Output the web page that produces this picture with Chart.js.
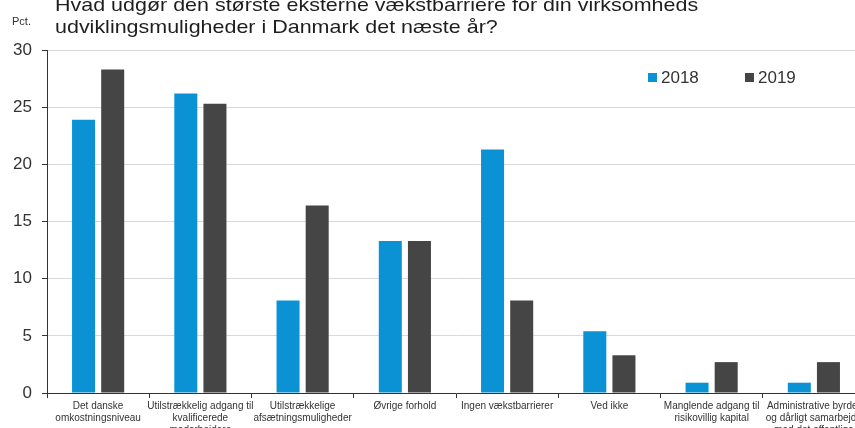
<!DOCTYPE html>
<html>
<head>
<meta charset="utf-8">
<script src="https://cdn.jsdelivr.net/npm/chart.js@4"></script>
<style>
  html, body { margin: 0; padding: 0; background: #fff; overflow: hidden; width: 855px; height: 428px; }
  #wrap { position: absolute; left: 0; top: 0; width: 875px; height: 428px; }
  #title { position: absolute; left: 55px; top: -6px; font: 19px "Liberation Sans", Arial, sans-serif; line-height: 22px; color: #1e1e1e; white-space: nowrap; transform: scaleX(1.13); transform-origin: left top; }
  #pct { position: absolute; left: 12px; top: 16px; font: 11px "Liberation Sans", Arial, sans-serif; line-height: 11px; color: #333; }
</style>
</head>
<body>
<div id="wrap"><canvas id="chart"></canvas></div>
<div id="title">Hvad udgør den største eksterne vækstbarriere for din virksomheds<br>udviklingsmuligheder i Danmark det næste år?</div>
<div id="pct">Pct.</div>
<script>
const categories = [
    ['Det danske', 'omkostningsniveau'],
    ['Utilstrækkelig adgang til', 'kvalificerede', 'medarbejdere'],
    ['Utilstrækkelige', 'afsætningsmuligheder'],
    'Øvrige forhold',
    'Ingen vækstbarrierer',
    'Ved ikke',
    ['Manglende adgang til', 'risikovillig kapital'],
    ['Administrative byrder', 'og dårligt samarbejde', 'med det offentlige']
];
const values2018 = [23.9, 26.2, 8.1, 13.3, 21.3, 5.4, 0.9, 0.9];
const values2019 = [28.3, 25.3, 16.4, 13.3, 8.1, 3.3, 2.7, 2.7];
const seriesLabels = ['2018', '2019'];
const yTicks = [0, 5, 10, 15, 20, 25, 30];

const FONT = '"Liberation Sans", Arial, sans-serif';

// legend drawn inside the plot area, top right
const innerLegend = {
    id: 'innerLegend',
    afterDraw(chart) {
        const ctx = chart.ctx;
        const pos = [648, 745];
        ctx.save();
        ctx.font = '17px ' + FONT;
        ctx.textBaseline = 'middle';
        chart.data.datasets.forEach((ds, i) => {
            ctx.fillStyle = ds.backgroundColor;
            ctx.fillRect(pos[i], 73, 9, 9);
            ctx.fillStyle = '#333';
            ctx.fillText(ds.label, pos[i] + 13, 78);
        });
        ctx.restore();
    }
};

function initChart() {
    const ctx = document.getElementById('chart').getContext('2d');
    new Chart(ctx, {
        type: 'bar',
        data: {
            labels: categories,
            datasets: [
                { label: seriesLabels[0], data: values2018, backgroundColor: '#0a92d5' },
                { label: seriesLabels[1], data: values2019, backgroundColor: '#454545' }
            ]
        },
        options: {
            responsive: true,
            maintainAspectRatio: false,
            animation: false,
            layout: { padding: { top: 50, left: 0, right: 10, bottom: 0 } },
            plugins: {
                legend: { display: false },
                tooltip: { enabled: false }
            },
            datasets: {
                bar: { categoryPercentage: 0.57, barPercentage: 0.79 }
            },
            scales: {
                x: {
                    offset: true,
                    grid: { display: true, drawOnChartArea: false, drawTicks: true, tickLength: 5, color: '#333', offset: true },
                    border: { color: '#333', width: 1 },
                    ticks: { font: { family: FONT, size: 10 }, color: '#333', maxRotation: 0, autoSkip: false, padding: 2 },
                    afterFit(scale) { scale.height = 35; }
                },
                y: {
                    min: 0,
                    max: 30,
                    afterBuildTicks(scale) { scale.ticks = yTicks.map(v => ({ value: v })); },
                    grid: { color: '#d9d9d9', tickLength: 5, tickColor: '#333' },
                    border: { color: '#333', width: 1 },
                    ticks: { font: { family: FONT, size: 17 }, color: '#333', padding: 10 },
                    afterFit(scale) { scale.width = 47; }
                }
            }
        },
        plugins: [innerLegend]
    });
}

document.addEventListener('DOMContentLoaded', initChart);
</script>
</body>
</html>
